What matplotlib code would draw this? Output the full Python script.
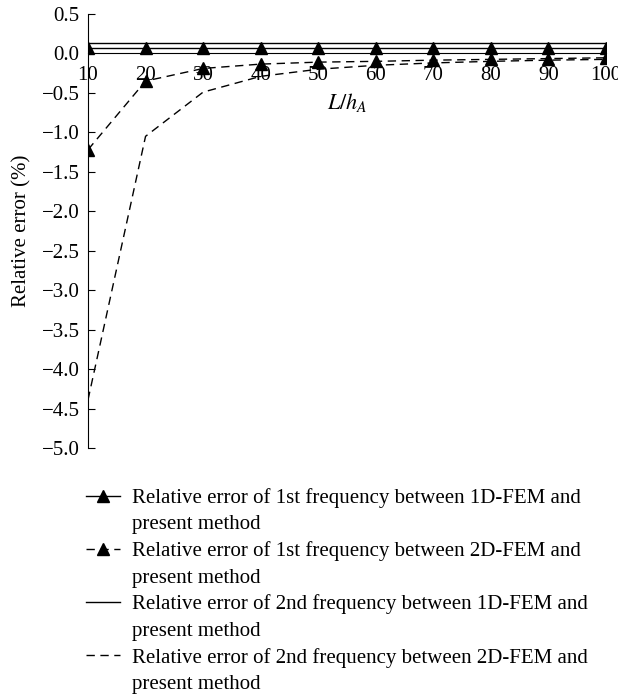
import matplotlib
matplotlib.use("Agg")
import matplotlib.pyplot as plt
from matplotlib.lines import Line2D

plt.rcParams['font.family'] = ['Liberation Serif', 'DejaVu Serif']
plt.rcParams['mathtext.fontset'] = 'stix'

x = [10, 20, 30, 40, 50, 60, 70, 80, 90, 100]
f1_1d = [0.07, 0.07, 0.07, 0.07, 0.07, 0.07, 0.07, 0.07, 0.07, 0.07]
f1_2d = [-1.22, -0.35, -0.19, -0.135, -0.11, -0.10, -0.085, -0.075, -0.065, -0.055]
f2_1d = [0.13, 0.13, 0.13, 0.13, 0.13, 0.13, 0.13, 0.13, 0.13, 0.13]
f2_2d = [-4.39, -1.05, -0.49, -0.29, -0.20, -0.15, -0.12, -0.10, -0.085, -0.075]

labels = [
    "Relative error of 1st frequency between 1D-FEM and",
    "Relative error of 1st frequency between 2D-FEM and",
    "Relative error of 2nd frequency between 1D-FEM and",
    "Relative error of 2nd frequency between 2D-FEM and",
]
label_cont = "present method"
yticks = [0.5, 0.0, -0.5, -1.0, -1.5, -2.0, -2.5, -3.0, -3.5, -4.0, -4.5, -5.0]

fig = plt.figure(figsize=(6.18, 6.97), dpi=100)
ax = fig.add_axes([88/618, 1-448/697, 518/618, 434/697])

dash = (0, (6, 4))
l1, = ax.plot(x, f1_1d, color='black', lw=1.0, marker='^', markersize=9)
l2, = ax.plot(x, f1_2d, color='black', lw=1.0, ls=dash, marker='^', markersize=9)
l3, = ax.plot(x, f2_1d, color='black', lw=1.0)
l4, = ax.plot(x, f2_2d, color='black', lw=1.0, ls=dash)

ax.set_xlim(10, 100)
ax.set_ylim(-5.0, 0.5)
ax.set_xticks(x)
ax.set_yticks(yticks)
ax.set_yticklabels(["{:.1f}".format(v).replace('-', '\u2212') for v in yticks])
ax.spines['top'].set_visible(False)
ax.spines['right'].set_visible(False)
ax.spines['bottom'].set_position(('data', 0))
ax.tick_params(axis='y', direction='in', length=5, labelsize=15, pad=6)
ax.tick_params(axis='x', length=0, labelsize=15, pad=9)
ax.set_ylabel("Relative error (%)", fontsize=15, labelpad=7)
ax.text(0.5, 0.795, r"$L/h_A$", transform=ax.transAxes, ha='center', va='center', fontsize=16)

blank = Line2D([], [], linestyle='none')
handles = []
leg_labels = []
for h, lab in zip([l1, l2, l3, l4], labels):
    handles += [h, blank]
    leg_labels += [lab, label_cont]

leg = fig.legend(handles, leg_labels, loc='upper left', bbox_to_anchor=(86/618, 1-488/697),
                 frameon=False, fontsize=15, handlelength=1.65, handletextpad=0.55,
                 labelspacing=0.33, borderaxespad=0, borderpad=0)

fig.savefig("out.png", dpi=100)
